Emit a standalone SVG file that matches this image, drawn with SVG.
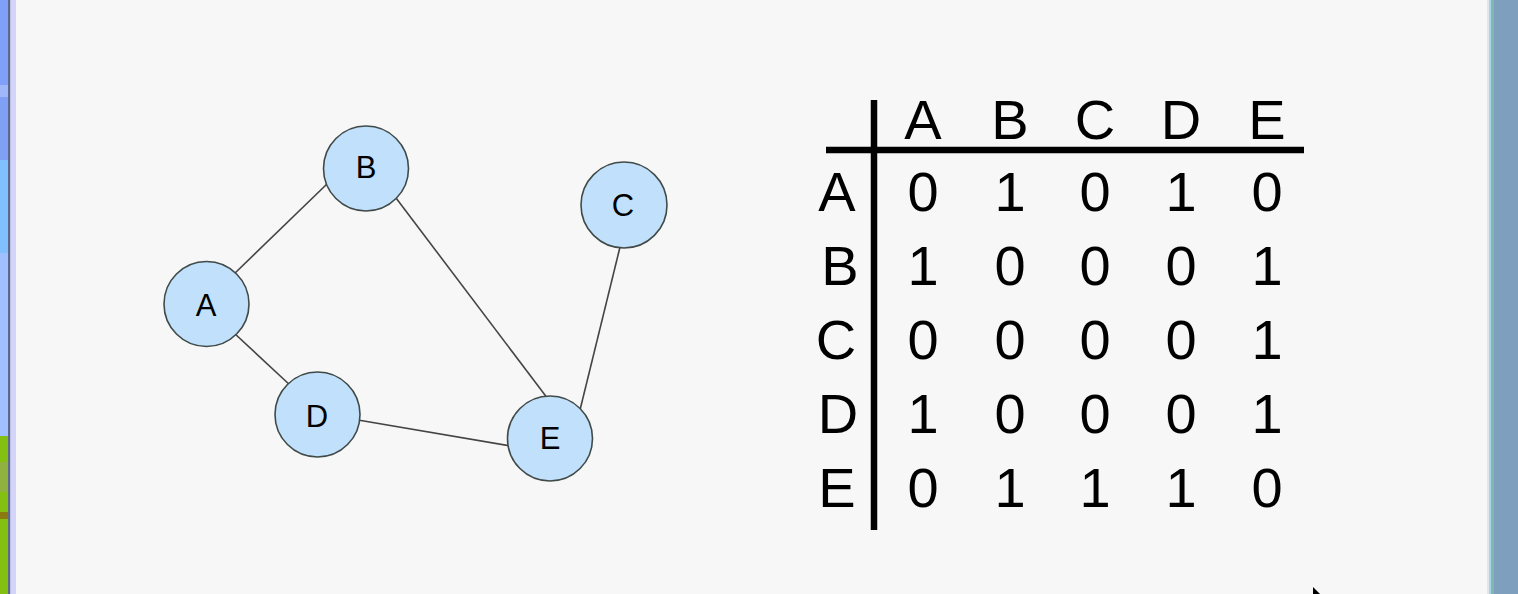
<svg xmlns="http://www.w3.org/2000/svg" width="1518" height="594" viewBox="0 0 1518 594">
<style>
.node circle{fill:#c0e0fb;stroke:#404a48;stroke-width:1.6}
.node text{font-family:"Liberation Sans",Arial,sans-serif;font-size:31px;fill:#000;text-anchor:middle}
.edges line{stroke:#444;stroke-width:1.6}
.tbl text{font-family:"Liberation Sans",Arial,sans-serif;font-size:56px;fill:#000;text-anchor:middle}
.rule{stroke:#000;stroke-width:6.5}
</style>
<rect x="0" y="0" width="1518" height="594" fill="#f7f7f7"/>
<g id="frame-left">
<rect x="0" y="0" width="8" height="85" fill="#7f9ff8"/>
<rect x="0" y="85" width="8" height="12" fill="#a0b8fa"/>
<rect x="0" y="97" width="8" height="63" fill="#80a0f4"/>
<rect x="0" y="160" width="8" height="93" fill="#80c0ff"/>
<rect x="0" y="253" width="8" height="183" fill="#a0c0ff"/>
<rect x="0" y="436" width="8" height="158" fill="#84c010"/>
<rect x="0" y="462" width="8" height="30" fill="#90b040"/>
<rect x="0" y="512" width="8" height="7" fill="#8a7a10"/>
<rect x="8" y="0" width="2.5" height="594" fill="#5a6890"/>
<rect x="10.5" y="0" width="5.5" height="594" fill="#d4d4fa"/>
</g>
<g id="frame-right">
<rect x="1487" y="0" width="2" height="594" fill="#e4e4ee"/>
<rect x="1489" y="0" width="2" height="594" fill="#a8d8e8"/>
<rect x="1491" y="0" width="3" height="594" fill="#80b8b0"/>
<rect x="1494" y="0" width="24" height="594" fill="#7f9fbf"/>
</g>
<g class="edges" id="connectors">
<line x1="233" y1="275" x2="328" y2="183"/>
<line x1="234" y1="333" x2="291" y2="386"/>
<line x1="393" y1="194" x2="548" y2="399"/>
<line x1="621" y1="243" x2="580" y2="410"/>
<line x1="358" y1="420" x2="511" y2="446"/>
</g>
<g class="node" id="node-A"><circle cx="206.5" cy="304" r="42.5"/><text x="206" y="316">A</text></g>
<g class="node" id="node-B"><circle cx="366" cy="168.5" r="42.5"/><text x="366" y="178">B</text></g>
<g class="node" id="node-C"><circle cx="624" cy="205" r="43"/><text x="623" y="216">C</text></g>
<g class="node" id="node-D"><circle cx="317.5" cy="414.5" r="42.5"/><text x="317" y="427">D</text></g>
<g class="node" id="node-E"><circle cx="550" cy="438.5" r="42.5"/><text x="550" y="449">E</text></g>
<g class="tbl" id="matrix">
<line class="rule" x1="874" y1="100" x2="874" y2="530"/>
<line class="rule" x1="826" y1="150" x2="1304" y2="150"/>
<g id="col-headers">
<text x="923" y="139">A</text><text x="1010" y="139">B</text><text x="1095" y="139">C</text><text x="1181" y="139">D</text><text x="1267" y="139">E</text>
</g>
<g id="row-headers">
<text x="837" y="211">A</text><text x="840" y="285">B</text><text x="836" y="359">C</text><text x="838" y="433">D</text><text x="837" y="507">E</text>
</g>
<g id="cells">
<text x="923" y="211">0</text><text x="1010" y="211">1</text><text x="1095" y="211">0</text><text x="1181" y="211">1</text><text x="1267" y="211">0</text>
<text x="923" y="285">1</text><text x="1010" y="285">0</text><text x="1095" y="285">0</text><text x="1181" y="285">0</text><text x="1267" y="285">1</text>
<text x="923" y="359">0</text><text x="1010" y="359">0</text><text x="1095" y="359">0</text><text x="1181" y="359">0</text><text x="1267" y="359">1</text>
<text x="923" y="433">1</text><text x="1010" y="433">0</text><text x="1095" y="433">0</text><text x="1181" y="433">0</text><text x="1267" y="433">1</text>
<text x="923" y="507">0</text><text x="1010" y="507">1</text><text x="1095" y="507">1</text><text x="1181" y="507">1</text><text x="1267" y="507">0</text>
</g>
</g>
<path id="cursor" d="M1313 587 L1313 594 L1320 594 Z" fill="#000"/>
</svg>
